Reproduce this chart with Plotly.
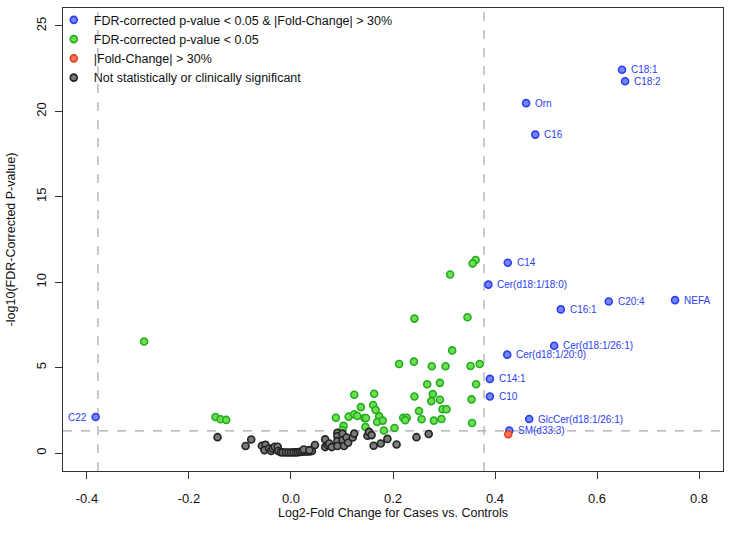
import plotly.graph_objects as go

# significant in both (FDR p < 0.05 and |FC| > 30%)
both_names = ["C18:1", "C18:2", "Orn", "C16", "C14", "Cer(d18:1/18:0)", "C20:4", "NEFA",
              "C16:1", "Cer(d18:1/26:1)", "Cer(d18:1/20:0)", "C14:1", "C10",
              "GlcCer(d18:1/26:1)", "SM(d33:3)", "C22"]
both_fc = [0.649, 0.655, 0.461, 0.479, 0.425, 0.387, 0.623, 0.753,
           0.529, 0.516, 0.424, 0.390, 0.390, 0.467, 0.428, -0.383]
both_p = [22.44, 21.76, 20.48, 18.64, 11.14, 9.86, 8.87, 8.95,
          8.41, 6.28, 5.76, 4.34, 3.31, 1.99, 1.32, 2.11]

# FDR p < 0.05 only
fdr_fc = [0.362, 0.356, 0.312, 0.242, 0.346, 0.316, 0.212, 0.241, 0.276, 0.303, 0.352, 0.370,
          0.267, 0.292, 0.363, 0.124, 0.163, 0.242, 0.278, 0.275, 0.292, 0.354, 0.137, 0.161,
          0.166, 0.251, 0.297, 0.305, 0.088, 0.113, 0.124, 0.130, 0.144, 0.147, 0.173, 0.220,
          0.227, 0.224, 0.169, 0.180, 0.256, 0.280, 0.295, 0.355, 0.103, 0.101, 0.146, 0.182,
          0.203, -0.148, -0.138, -0.127, -0.288]
fdr_p = [11.30, 11.10, 10.45, 7.87, 7.95, 6.01, 5.21, 5.35, 5.08, 5.08, 5.10, 5.21,
         4.03, 4.11, 4.03, 3.41, 3.47, 3.31, 3.45, 3.04, 3.12, 3.14, 2.69, 2.81,
         2.52, 2.46, 2.56, 2.56, 2.07, 2.13, 2.27, 2.17, 2.05, 2.05, 2.15, 2.07,
         2.07, 1.92, 1.82, 1.90, 1.98, 1.90, 1.99, 1.76, 1.59, 1.34, 1.53, 1.32,
         1.47, 2.11, 1.98, 1.94, 6.53]

# |FC| > 30% only
fc_only_fc = [0.426]
fc_only_p = [1.10]

# neither
ns_fc = [-0.144, -0.089, -0.078, -0.057, -0.050, -0.052, -0.043, -0.039, -0.036, -0.032,
         -0.026, -0.025, -0.020, -0.016, -0.010, -0.005, 0.000, 0.005, 0.010, 0.014,
         0.018, 0.022, 0.026, 0.030, 0.034, 0.038, 0.041, 0.025, 0.036, 0.047,
         0.067, 0.067, 0.072, 0.075, 0.080, 0.091, 0.091, 0.091, 0.091, 0.101,
         0.101, 0.104, 0.109, 0.112, 0.121, 0.124, 0.150, 0.153, 0.158, 0.162,
         0.176, 0.189, 0.207, 0.246, 0.270]
ns_p = [0.93, 0.41, 0.79, 0.43, 0.48, 0.17, 0.27, 0.12, 0.27, 0.37,
        0.37, 0.12, 0.05, 0.04, 0.03, 0.03, 0.03, 0.04, 0.04, 0.05,
        0.07, 0.08, 0.09, 0.10, 0.10, 0.11, 0.12, 0.21, 0.17, 0.47,
        0.80, 0.35, 0.47, 0.56, 0.35, 1.18, 0.98, 0.70, 0.41, 1.14,
        0.76, 0.41, 0.91, 0.60, 0.91, 1.14, 1.01, 1.24, 1.05, 0.43,
        0.56, 0.83, 0.50, 0.93, 1.12]

FC_CUT = 0.3785   # log2(1.3)
P_CUT = 1.301     # -log10(0.05)

FONT = "Liberation Sans, Arial, sans-serif"


def pts(x, y, name, fill, edge):
    return go.Scatter(x=x, y=y, mode="markers", name=name, hoverinfo="skip",
                      marker=dict(size=7, color=fill, line=dict(color=edge, width=1.6)))


fig = go.Figure()
fig.add_trace(pts(both_fc, both_p, "FDR-corrected p-value < 0.05 & |Fold-Change| > 30%",
                  "#7585f7", "#2b3ef2"))
fig.add_trace(pts(fdr_fc, fdr_p, "FDR-corrected p-value < 0.05", "#70dd50", "#1fae1f"))
fig.add_trace(pts(fc_only_fc, fc_only_p, "|Fold-Change| > 30%", "#ff7455", "#e3401e"))
fig.add_trace(pts(ns_fc, ns_p, "Not statistically or clinically significant", "#7a7a7a", "#222222"))

# threshold lines
for xv in (-FC_CUT, FC_CUT):
    fig.add_shape(type="line", xref="x", yref="paper", x0=xv, x1=xv, y0=0, y1=1,
                  line=dict(color="#a8a8a8", width=1.2, dash="dash"), layer="below")
fig.add_shape(type="line", xref="paper", yref="y", x0=0, x1=1, y0=P_CUT, y1=P_CUT,
              line=dict(color="#a8a8a8", width=1.2, dash="dash"), layer="below")

# labels for the blue points
for n, xv, yv in zip(both_names, both_fc, both_p):
    left = xv < 0
    fig.add_annotation(x=xv, y=yv, text=n, showarrow=False,
                       xanchor="right" if left else "left",
                       xshift=-7 if left else 7,
                       font=dict(family=FONT, size=10, color="#2b3ef2"))

axis_common = dict(showline=True, linecolor="#333333", linewidth=1, mirror=True,
                   ticks="outside", ticklen=7, tickcolor="#333333", showgrid=False,
                   zeroline=False, automargin=False,
                   tickfont=dict(family=FONT, size=13, color="#111111"))

fig.update_layout(
    width=730, height=536,
    margin=dict(l=63, r=7, t=5, b=65),
    plot_bgcolor="white", paper_bgcolor="white",
    font=dict(family=FONT, color="#111111"),
    xaxis=dict(range=[-0.447, 0.847], tickvals=[-0.4, -0.2, 0, 0.2, 0.4, 0.6, 0.8],
               ticktext=["-0.4", "-0.2", "0.0", "0.2", "0.4", "0.6", "0.8"],
               ticklabelstandoff=8,
               title=dict(text="Log2-Fold Change for Cases vs. Controls",
                          font=dict(family=FONT, size=12.5), standoff=3),
               **axis_common),
    yaxis=dict(range=[-1.05, 26.05], tickvals=[0, 5, 10, 15, 20, 25], tickangle=-90,
               ticklabelstandoff=4,
               title=dict(text="-log10(FDR-Corrected P-value)",
                          font=dict(family=FONT, size=12.5)),
               **axis_common),
    legend=dict(x=-0.014, y=1.006, xanchor="left", yanchor="top", bgcolor="rgba(0,0,0,0)",
                font=dict(family=FONT, size=12.5), itemwidth=30, tracegroupgap=0),
    showlegend=True,
)

fig.write_html("out.html", config={"displayModeBar": False},
               post_script="document.body.style.margin='0';")
